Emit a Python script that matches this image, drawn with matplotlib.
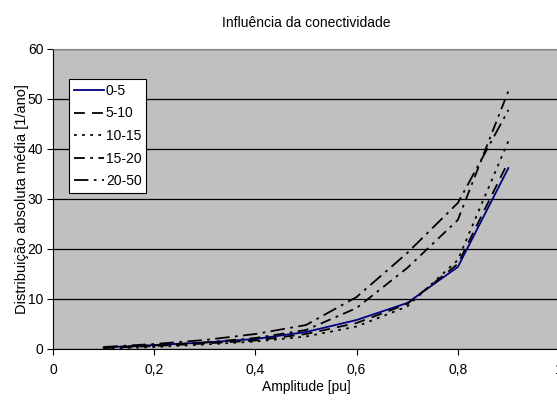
import numpy as np
import matplotlib
matplotlib.use('Agg')
import matplotlib.pyplot as plt
from matplotlib.ticker import FuncFormatter

plt.rcParams['font.family'] = ['Liberation Sans', 'DejaVu Sans']

amplitude = [0.1, 0.2, 0.3, 0.4, 0.5, 0.6, 0.7, 0.8, 0.9]
labels = ['0-5', '5-10', '10-15', '15-20', '20-50']
s_0_5 = [0.3, 0.8, 1.3, 2.0, 3.4, 5.8, 9.2, 16.4, 36.2]
s_5_10 = [0.2, 0.6, 1.1, 1.7, 3.0, 5.2, 9.0, 17.0, 37.5]
s_10_15 = [0.1, 0.4, 0.9, 1.5, 2.5, 4.5, 8.5, 17.8, 41.6]
s_15_20 = [0.3, 0.7, 1.3, 2.2, 3.8, 8.2, 16.2, 25.8, 51.6]
s_20_50 = [0.4, 1.0, 1.8, 3.0, 4.8, 10.4, 19.2, 29.2, 47.8]

series = [s_0_5, s_5_10, s_10_15, s_15_20, s_20_50]
styles = [
    dict(color='#000080', linestyle='-'),
    dict(color='black', linestyle=(0, (6, 4))),
    dict(color='black', linestyle=(0, (1.5, 3))),
    dict(color='black', linestyle=(0, (6, 3, 1.5, 3))),
    dict(color='black', linestyle=(0, (8, 3, 1.5, 3))),
]

fig = plt.figure(figsize=(5.57, 4.05), dpi=100)
ax = fig.add_axes([53/557, 1-349/405, 506/557, 300/405])
ax.set_facecolor('#C0C0C0')

for lab, y, st in zip(labels, series, styles):
    ax.plot(amplitude, y, lw=1.3, label=lab, **st)

ax.set_xlim(0, 1)
ax.set_ylim(0, 60)
ax.set_xticks(np.arange(0, 1.01, 0.2))
ax.set_yticks(range(0, 61, 10))
ax.xaxis.set_major_formatter(FuncFormatter(lambda v, p: ('%g' % round(v, 1)).replace('.', ',')))
ax.yaxis.grid(True, color='black', lw=0.9)
ax.set_axisbelow(True)
ax.spines['right'].set_visible(False)
ax.spines['top'].set_color('#808080')
ax.spines['left'].set_color('black')
ax.spines['bottom'].set_color('black')
ax.tick_params(direction='out', length=4, labelsize=10, pad=3)
ax.tick_params(axis='x', pad=6)

ax.set_title('Influência da conectividade', fontsize=10, pad=16)
ax.set_xlabel('Amplitude [pu]', fontsize=10, labelpad=2)
ax.set_ylabel('Distribuição absoluta média [1/ano]', fontsize=10.5, labelpad=-1)

leg = ax.legend(loc='upper left', bbox_to_anchor=(16/506, 1-30/300), fontsize=10,
                frameon=True, fancybox=False, edgecolor='black', framealpha=1,
                handlelength=2.2, handletextpad=0.1, borderpad=0.35, labelspacing=0.62,
                borderaxespad=0)
leg.get_frame().set_linewidth(0.8)

fig.savefig('out.png', dpi=100)
